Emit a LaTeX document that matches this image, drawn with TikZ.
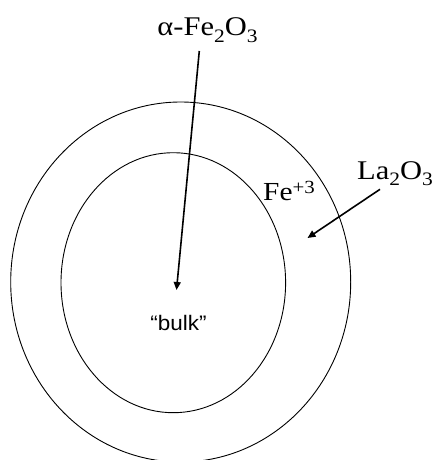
\documentclass[tikz,border=0pt]{standalone}
\usepackage{fontspec}
\setmainfont{Liberation Serif}
\newfontfamily\labsans{Liberation Sans}
\usetikzlibrary{arrows.meta}
\newcommand\mysub[2]{\raisebox{-6.5pt}{\fontsize{#1}{#1}\selectfont #2}}
\newcommand\mysup[2]{\raisebox{7.4pt}{\fontsize{#1}{#1}\selectfont #2}}
\newcommand\wide[1]{\scalebox{1.13}[1]{#1}}
\begin{document}
\begin{tikzpicture}[x=1pt,y=-1pt,
  shell/.style={line width=0.9pt},
  pointer/.style={line width=1.6pt,-{Triangle[length=8pt,width=7pt]}},
  chem/.style={inner sep=0pt,anchor=base},
  bulklab/.style={inner sep=0pt,anchor=base}]
\useasboundingbox (0,0) rectangle (434,460);
\draw[shell] (180.7,282) ellipse [x radius=170, y radius=180];
\draw[shell] (173.3,282.7) ellipse [x radius=112.3, y radius=130];
\node[chem] (afe) at (207.5,36) {\wide{\fontsize{27}{28}\selectfont α-Fe\mysub{19}{2}O\mysub{19}{3}}};
\node[chem,anchor=base east] (lao) at (433,179.3) {\wide{\fontsize{27}{28}\selectfont La\mysub{19}{2}O\mysub{19}{3}}};
\node[chem] (fe) at (289,200.7) {\wide{\fontsize{26}{27}\selectfont Fe\mysup{18.5}{+3}}};
\node[bulklab] (bulk) at (178.5,330) {\scalebox{1.07}[1]{\labsans\fontsize{21}{23}\selectfont “bulk”}};
\coordinate (a1s) at (199.3,51);
\coordinate (a1e) at (176.5,290);
\coordinate (a2s) at (380,189.3);
\coordinate (a2e) at (307.5,238);
\draw[pointer] (a1s) -- (a1e);
\draw[pointer] (a2s) -- (a2e);
\end{tikzpicture}
\end{document}
